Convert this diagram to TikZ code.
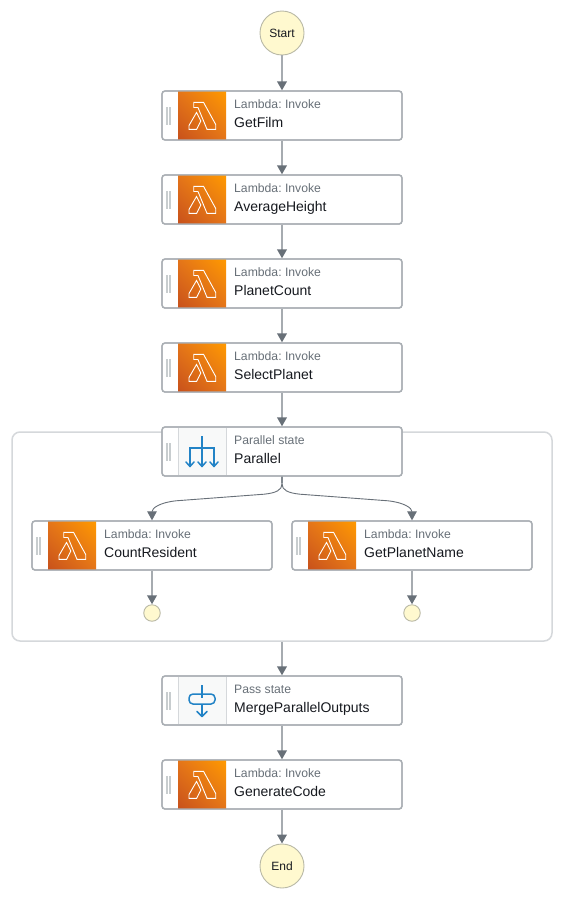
\documentclass[tikz,border=0pt]{standalone}
\usepackage{fontspec}
\setmainfont{Liberation Sans}
\usetikzlibrary{arrows.meta,shadings}
\definecolor{edgegray}{HTML}{A6ABB0}
\definecolor{headgray}{HTML}{687078}
\definecolor{boxline}{HTML}{A9AEB3}
\definecolor{wrapline}{HTML}{D5D8DB}
\definecolor{termfill}{HTML}{FFF9CF}
\definecolor{termline}{HTML}{B9B9A6}
\definecolor{iconblue}{HTML}{2283C6}
\definecolor{titleink}{HTML}{16191F}
\definecolor{handlegray}{HTML}{C8CDCF}
\definecolor{iconbg}{HTML}{F8F9F9}
\definecolor{lamlow}{HTML}{C8511B}
\definecolor{lamhigh}{HTML}{FF9900}
\definecolor{lammid}{HTML}{E4751A}
\tikzset{
  x=1pt,y=-1pt,
  statebox/.style={draw=boxline,line width=1.3pt,fill=white,rounded corners=3pt,minimum width=240pt,minimum height=49pt,inner sep=0pt},
  termnode/.style={circle,draw=termline,line width=0.9pt,fill=termfill,inner sep=0pt,text=titleink,font=\fontsize{12}{14}\selectfont},
  wrapbox/.style={draw=wrapline,line width=1.5pt,rounded corners=8pt,minimum width=540pt,minimum height=209pt,inner sep=0pt},
  flow/.style={draw=edgegray,line width=2pt,-{Triangle[length=9pt,width=9.5pt,color=headgray]}},
  branch/.style={draw=headgray,line width=0.9pt,-{Triangle[length=9pt,width=9.5pt,color=headgray]}},
  typelabel/.style={anchor=base west,inner sep=0pt,text=headgray,font=\fontsize{12.2}{14}\selectfont\frenchspacing},
  titlelabel/.style={anchor=base west,inner sep=0pt,text=titleink,font=\fontsize{14}{17}\selectfont\frenchspacing},
  blueline/.style={draw=iconblue,line width=1.5pt},
  bluetip/.style={draw=iconblue,line width=1.5pt,line cap=round,line join=round},
}
\newcommand{\lambdaicon}{%
  \shade[lower left=lamlow,upper right=lamhigh,lower right=lammid,upper left=lammid] (16,0.7) rectangle (64,48.3);
  \draw[white,line width=0.9pt,line join=miter] (31.7,11.3) -- (41.5,11.3) -- (53.7,33.5) -- (53.7,38.3) -- (45,38.3) -- (36,16.5) -- (31.7,16.5) -- cycle;
  \draw[white,line width=0.9pt,line join=miter] (27,38.3) -- (27,34.5) -- (34.5,21.5) -- (38.8,30) -- (34.7,38.3) -- cycle;
}
\newcommand{\parallelicon}{%
  \fill[iconbg] (16,0.7) rectangle (64,48.3);
  \draw[wrapline,line width=0.8pt] (16,0.7) -- (16,48.3) (64,0.7) -- (64,48.3);
  \draw[blueline] (40,9) -- (40,39);
  \draw[blueline] (28,39) -- (28,21) -- (52,21) -- (52,39);
  \foreach \ax in {28,40,52} {\draw[bluetip] (\ax-4,35) -- (\ax,39.5) -- (\ax+4,35);}
}
\newcommand{\passicon}{%
  \fill[iconbg] (16,0.7) rectangle (64,48.3);
  \draw[wrapline,line width=0.8pt] (16,0.7) -- (16,48.3) (64,0.7) -- (64,48.3);
  \draw[blueline] (40,9) -- (40,22);
  \draw[blueline,rounded corners=4pt] (27,18) rectangle (53,28);
  \draw[blueline] (40,28) -- (40,40);
  \draw[bluetip] (35,35.5) -- (40,40.5) -- (45,35.5);
}
% name, left, top, icon, type text, title text
\newcommand{\statenode}[6]{%
  \node[statebox] (#1) at (#2+120,#3+24.5) {};
  \begin{scope}[shift={(#2,#3)}]
    #4
    \fill[handlegray] (4,16) rectangle (5.7,34);
    \fill[handlegray] (6.9,16) rectangle (8.7,34);
    \node[typelabel] (#1-type) at (72,17.3) {#5};
    \node[titlelabel] (#1-title) at (72,36) {#6};
  \end{scope}
  \draw[boxline,line width=1.3pt,rounded corners=3pt] (#2,#3) rectangle (#2+240,#3+49);
}
\begin{document}
\begin{tikzpicture}
\useasboundingbox (0,0) rectangle (564,900);
\fill[white] (0,0) rectangle (564,900);
\node[wrapbox] (wrap) at (282,536.5) {};
\node[termnode,minimum size=44pt] (start) at (282,33) {Start};
\statenode{getfilm}{162}{91}{\lambdaicon}{Lambda: Invoke}{GetFilm}
\statenode{avgheight}{162}{175}{\lambdaicon}{Lambda: Invoke}{AverageHeight}
\statenode{planetcount}{162}{259}{\lambdaicon}{Lambda: Invoke}{PlanetCount}
\statenode{selectplanet}{162}{343}{\lambdaicon}{Lambda: Invoke}{SelectPlanet}
\statenode{parallel}{162}{427}{\parallelicon}{Parallel state}{Parallel}
\statenode{countres}{32}{521}{\lambdaicon}{Lambda: Invoke}{CountResident}
\statenode{planetname}{292}{521}{\lambdaicon}{Lambda: Invoke}{GetPlanetName}
\statenode{merge}{162}{676}{\passicon}{Pass state}{MergeParallelOutputs}
\statenode{gencode}{162}{760}{\lambdaicon}{Lambda: Invoke}{GenerateCode}
\node[termnode,minimum size=44pt] (end) at (282,866) {End};
\node[termnode,minimum size=16.5pt] (leftend) at (152,613) {};
\node[termnode,minimum size=16.5pt] (rightend) at (412,613) {};
\draw[flow] (start) -- (getfilm);
\draw[flow] (getfilm) -- (avgheight);
\draw[flow] (avgheight) -- (planetcount);
\draw[flow] (planetcount) -- (selectplanet);
\draw[flow] (selectplanet) -- (parallel);
\draw[flow] (wrap.south) -- (merge);
\draw[flow] (merge) -- (gencode);
\draw[flow] (gencode) -- (end);
\draw[flow] (countres) -- (leftend);
\draw[flow] (planetname) -- (rightend);
\draw[edgegray,line width=1.6pt] (parallel.south) -- (282,483);
\draw[branch] (parallel.south) -- (282,484) .. controls (282,490) and (276,493) .. (264,494.2) -- (176,500.8) .. controls (160,502.5) and (152,508) .. (countres.north);
\draw[branch] (parallel.south) -- (282,484) .. controls (282,490) and (288,493) .. (300,494.2) -- (388,500.8) .. controls (404,502.5) and (412,508) .. (planetname.north);
\end{tikzpicture}
\end{document}
